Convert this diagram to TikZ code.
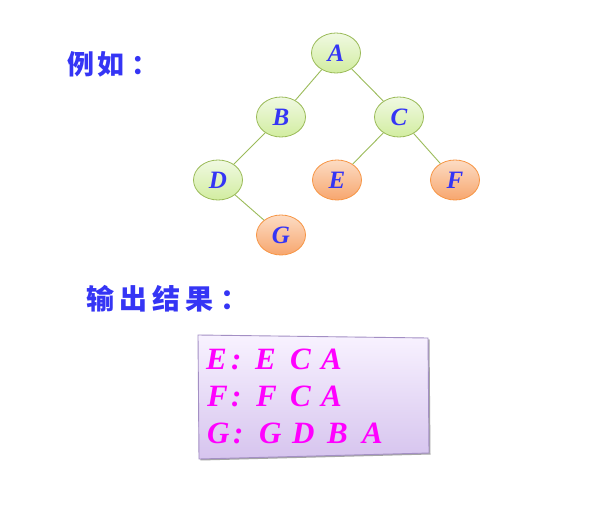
\documentclass[tikz,border=0pt]{standalone}
\usepackage{fontspec}
\setmainfont{Liberation Serif}
\newfontfamily\cjk{Noto Sans CJK SC}
\usetikzlibrary{shapes.geometric}
\definecolor{txtblue}{HTML}{3535F5}
\definecolor{grnline}{HTML}{9BBB59}
\definecolor{grntop}{HTML}{F0F9E2}
\definecolor{grnbot}{HTML}{D2EDA0}
\definecolor{orgline}{HTML}{F79646}
\definecolor{orgtop}{HTML}{FCDCC4}
\definecolor{orgbot}{HTML}{F7A66E}
\definecolor{mag}{HTML}{FF00FF}
\definecolor{boxtop}{HTML}{F8F2FF}
\definecolor{boxbot}{HTML}{D6C4EE}
\definecolor{boxline}{HTML}{A38FC4}
\tikzset{
  tnode/.style={ellipse, minimum width=49pt, minimum height=40pt, inner sep=0pt,
    line width=0.8pt, font=\fontsize{25}{25}\selectfont\bfseries\itshape, text=txtblue},
  gnode/.style={tnode, draw=grnline, top color=grntop, bottom color=grnbot},
  onode/.style={tnode, draw=orgline, top color=orgtop, bottom color=orgbot},
  edge/.style={draw=grnline, line width=0.9pt},
  cjklabel/.style={text=txtblue, inner sep=0pt, anchor=west},
  res/.style={font=\fontsize{31}{31}\selectfont\bfseries\itshape, text=mag, inner sep=0pt, anchor=base west},
}
\begin{document}
\begin{tikzpicture}[x=1pt,y=-1pt]
\useasboundingbox (0,0) rectangle (599,513);
\fill[white] (0,0) rectangle (599,513);
% labels
\node[cjklabel, font=\fontsize{27}{27}\selectfont\cjk\bfseries] (l1) at (67,64) {例\hspace{3pt}如\hspace{7pt}：};
\node[cjklabel, font=\fontsize{28}{28}\selectfont\cjk\bfseries] (l2) at (86,299) {输\hspace{5pt}出\hspace{5pt}结\hspace{5pt}果\hspace{7pt}：};
% tree
\node[gnode] (A) at (336,53) {A};
\node[gnode] (B) at (281,117) {B};
\node[gnode] (C) at (399,117) {C};
\node[gnode] (D) at (218,180) {D};
\node[onode] (E) at (337,180) {E};
\node[onode] (F) at (455,180) {F};
\node[onode] (G) at (281,235) {G};
\draw[edge] (A) -- (B);
\draw[edge] (A) -- (C);
\draw[edge] (B) -- (D);
\draw[edge] (C) -- (E);
\draw[edge] (C) -- (F);
\draw[edge] (D) -- (G);
% result box
\coordinate (p1) at (198,335);
\coordinate (p2) at (428,338);
\coordinate (p3) at (429,453);
\coordinate (p4) at (199,459);
\fill[black!35] ([shift={(1.5,1.5)}]p1) -- ([shift={(1.5,1.5)}]p2) -- ([shift={(1.5,1.5)}]p3) -- ([shift={(1.5,1.5)}]p4) -- cycle;
\draw[boxline, line width=0.9pt, top color=boxtop, bottom color=boxbot] (p1) -- (p2) -- (p3) -- (p4) -- cycle;
\node[res] (r1a) at (206,369) {E};
\node[res] (r1k) at (231,369) {:};
\node[res] (r1b) at (255,369) {E};
\node[res] (r1c) at (290,369) {C};
\node[res] (r1d) at (321,369) {A};
\node[res] (r2a) at (207,406) {F};
\node[res] (r2k) at (231,406) {:};
\node[res] (r2b) at (256,406) {F};
\node[res] (r2c) at (290,406) {C};
\node[res] (r2d) at (321,406) {A};
\node[res] (r3a) at (207,443) {G};
\node[res] (r3k) at (233,443) {:};
\node[res] (r3b) at (259,443) {G};
\node[res] (r3c) at (292,443) {D};
\node[res] (r3d) at (327,443) {B};
\node[res] (r3e) at (362,443) {A};
\end{tikzpicture}
\end{document}
